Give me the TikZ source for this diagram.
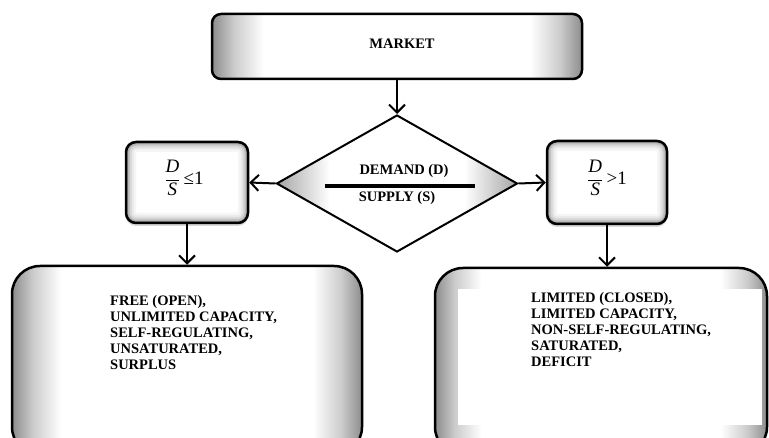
\documentclass[tikz,border=0pt]{standalone}
\usepackage{fontspec}
\setmainfont{Liberation Serif}
\usetikzlibrary{shapes.geometric,arrows.meta,shadows}
\pgfdeclarehorizontalshading{edgesh}{100bp}{color(0bp)=(black!45); color(25bp)=(black!45); color(28bp)=(black!20); color(32bp)=(white); color(68bp)=(white); color(72bp)=(black!20); color(75bp)=(black!45); color(100bp)=(black!45)}
\pgfdeclarehorizontalshading{diash}{100bp}{color(0bp)=(black!35); color(25bp)=(black!35); color(36bp)=(white); color(64bp)=(white); color(75bp)=(black!35); color(100bp)=(black!35)}
\tikzset{
  edgebox/.style={rectangle, draw=black, line width=2.5pt, rounded corners=#1, shading=edgesh, inner sep=0pt},
  glowbox/.style={rectangle, draw=black, line width=2.5pt, rounded corners=10pt, fill=white, inner sep=0pt,
    drop shadow={shadow xshift=0pt, shadow yshift=-3pt, opacity=0.3},
    path picture={
      \foreach \w/\c in {20/4, 15/9, 11/16, 7/26, 4/38}{
        \draw[line width=\w pt, draw=black!\c, rounded corners=10pt]
          (path picture bounding box.south west) rectangle (path picture bounding box.north east);
      }
    }},
  arr/.style={line width=2pt, -{Straight Barb[length=8pt,width=16pt]}},
  lbl/.style={font=\bfseries\fontsize{14.5}{16}\selectfont, inner sep=0pt},
  ratiotxt/.style={font=\fontsize{19}{22}\selectfont, inner sep=0pt}
}
\begin{document}
\begin{tikzpicture}[x=1pt,y=-1pt]
\useasboundingbox (0,0) rectangle (769,438);
\clip (0,0) rectangle (769,438);
% top box
\node[edgebox=9pt, minimum width=370pt, minimum height=65pt] (market) at (397,46.5) {};
\node[lbl] (markettext) at (402,44) {MARKET};
% diamond
\node[diamond, draw=black, line width=2pt, shading=diash, minimum width=241pt, minimum height=137pt, inner sep=0pt] (ratio) at (397,183.5) {};
\node[lbl] (demand) at (404,171) {DEMAND (D)};
\node[lbl] (supply) at (397,198) {SUPPLY (S)};
\coordinate (barl) at (325,186);
\coordinate (barr) at (475,186);
\draw[line width=4pt] (barl) -- (barr);
% small boxes
\node[glowbox, minimum width=122pt, minimum height=81pt] (le) at (187,182.5) {};
\node[ratiotxt] (letext) at (184,178) {$\displaystyle\frac{\mbox{\itshape D}}{\mbox{\itshape S}}$\,≤1};
\node[glowbox, minimum width=120pt, minimum height=83pt] (gt) at (607,182.5) {};
\node[ratiotxt] (gttext) at (607,178) {$\displaystyle\frac{\mbox{\itshape D}}{\mbox{\itshape S}}$\,>1};
% big boxes
\node[edgebox=28pt, minimum width=350pt, minimum height=189pt] (free) at (187,360.5) {};
\node[edgebox=28pt, minimum width=332pt, minimum height=187pt] (limited) at (601,361.5) {};
\fill[white] (458,289) rectangle (762,425);
\node[lbl, anchor=north west, align=left] (freetext) at (110,295) {FREE (OPEN),\\UNLIMITED CAPACITY,\\SELF-REGULATING,\\UNSATURATED,\\SURPLUS};
\node[lbl, anchor=north west, align=left] (limtext) at (531,292) {LIMITED (CLOSED),\\LIMITED CAPACITY,\\NON-SELF-REGULATING,\\SATURATED,\\DEFICIT};
% connectors
\draw[arr] (market.south) -- (ratio.north);
\draw[arr] (ratio.west) -- (le.east);
\draw[arr] (ratio.east) -- (gt.west);
\draw[arr] (le.south) -- (le.south |- free.north);
\draw[arr] (gt.south) -- (gt.south |- limited.north);
\end{tikzpicture}
\end{document}
